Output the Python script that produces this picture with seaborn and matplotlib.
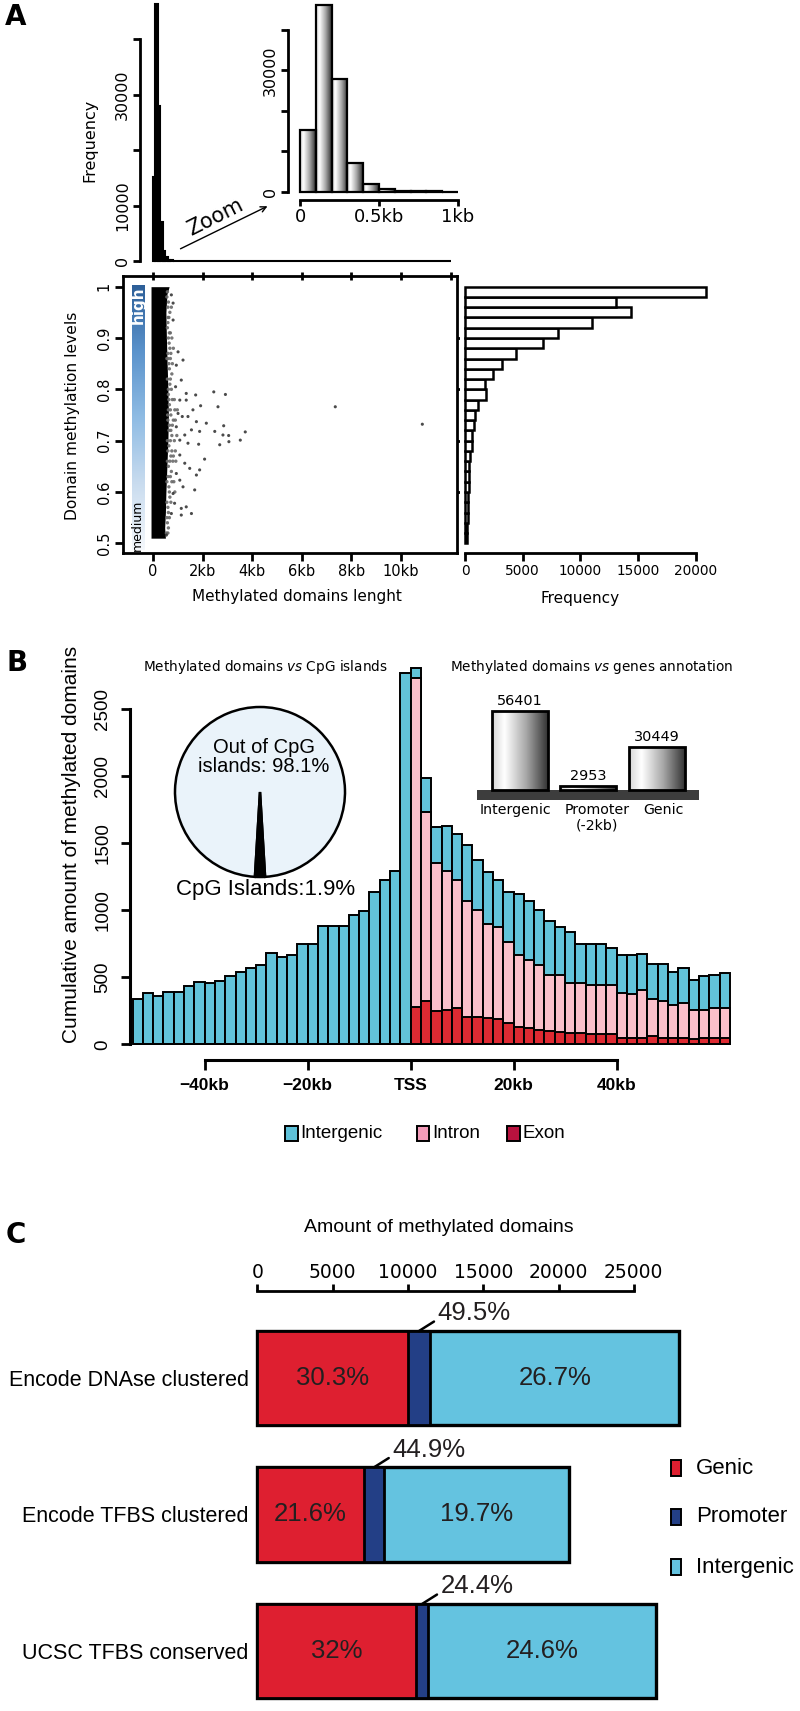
import numpy as np
import pandas as pd
import matplotlib
matplotlib.use("Agg")
import matplotlib.pyplot as plt
from matplotlib.patches import Rectangle, FancyArrowPatch
from matplotlib.colors import LinearSegmentedColormap
import seaborn as sns

# ---------------- data ----------------
# A: domain length histogram, 100 bp bins (bin start in bp)
len_bin_start = [0, 100, 200, 300, 400, 500, 600, 700, 800, 900]
len_counts = [15200, 46250, 27900, 7080, 1830, 670, 250, 100, 60, 40]

# A: methylation level histogram, 0.02 bins (bin start)
lvl_bin_start = [0.98, 0.96, 0.94, 0.92, 0.90, 0.88, 0.86, 0.84, 0.82, 0.80,
                 0.78, 0.76, 0.74, 0.72, 0.70, 0.68, 0.66, 0.64, 0.62, 0.60,
                 0.58, 0.56, 0.54, 0.52, 0.50]
lvl_counts = [20840, 13040, 14370, 10970, 8020, 6780, 4420, 3230, 2450, 1730,
              1820, 1150, 870, 780, 580, 580, 430, 375, 320, 320,
              260, 260, 260, 200, 200]

# A: scatter - saturated core (right edge in bp at each level) and sparse points
core_level = [0.51, 0.53, 0.56, 0.60, 0.65, 0.70, 0.75, 0.80, 0.85, 0.90, 0.95, 0.985, 1.0]
core_right = [500, 470, 500, 520, 560, 600, 620, 600, 570, 540, 520, 560, 650]
sparse_len = [7350, 10860, 2450, 2920, 2620, 1920, 1720, 1340, 2150, 2490, 2850, 3050,
              3060, 3720, 3520, 2820, 2690, 2080, 1880, 1750, 1550, 1410, 1840, 1680,
              1550, 1140, 1140, 1340, 1210, 1080, 1880, 1750, 1480, 1210, 1010, 940,
              1140, 1340, 1180, 1010, 1080, 910, 810, 740, 810, 940, 1080, 1280,
              940, 810, 870, 740, 540, 1080, 1280, 1410, 1610]
sparse_lvl = [0.766, 0.732, 0.795, 0.790, 0.766, 0.768, 0.789, 0.792, 0.734, 0.718, 0.729, 0.710,
              0.698, 0.717, 0.701, 0.711, 0.692, 0.664, 0.718, 0.737, 0.721, 0.695, 0.693, 0.604,
              0.558, 0.568, 0.555, 0.571, 0.610, 0.623, 0.643, 0.633, 0.646, 0.857, 0.873, 0.847,
              0.818, 0.779, 0.747, 0.753, 0.779, 0.805, 0.935, 0.984, 0.968, 0.727, 0.672, 0.656,
              0.636, 0.597, 0.578, 0.558, 0.516, 0.701, 0.711, 0.747, 0.760]
# grey fringe just right of the core
fringe_len = [620, 680, 600, 700, 650, 720, 640, 760, 680, 620, 780, 700, 820, 660,
              760, 860, 640, 720, 800, 620, 700, 760, 640, 680, 600, 660, 580, 620,
              720, 880, 900, 580, 560, 590, 600,
              560, 600, 640, 580, 620, 680, 600, 660, 700, 620, 740, 660, 720, 780,
              640, 700, 760, 820, 680, 740, 600, 660, 720, 620, 560, 600, 540, 900,
              960, 860, 920, 980, 840, 880, 600, 640, 580, 600, 580, 560, 580, 620,
              560, 600, 660, 700, 760, 740, 820, 780]
fringe_lvl = [0.97, 0.95, 0.93, 0.91, 0.89, 0.87, 0.85, 0.83, 0.81, 0.79, 0.78, 0.76, 0.74, 0.73,
              0.71, 0.70, 0.69, 0.67, 0.66, 0.65, 0.63, 0.62, 0.61, 0.59, 0.57, 0.55, 0.54, 0.53,
              0.72, 0.76, 0.68, 0.99, 0.62, 0.75, 0.86,
              0.98, 0.96, 0.94, 0.92, 0.90, 0.88, 0.87, 0.84, 0.82, 0.80, 0.80, 0.77, 0.75, 0.73,
              0.72, 0.70, 0.68, 0.67, 0.66, 0.64, 0.63, 0.60, 0.58, 0.56, 0.55, 0.52, 0.52, 0.74,
              0.71, 0.78, 0.66, 0.76, 0.62, 0.60, 0.74, 0.78, 0.82, 0.68, 0.66, 0.58, 0.70, 0.76,
              0.86, 0.94, 0.91, 0.86, 0.90, 0.96, 0.88, 0.85]

# B: distance to TSS, 2 kb bins (bin start, kb)
tss_bin_start = [-54, -52, -50, -48, -46, -44, -42, -40, -38, -36, -34, -32, -30, -28,
                 -26, -24, -22, -20, -18, -16, -14, -12, -10, -8, -6, -4, -2,
                 0, 2, 4, 6, 8, 10, 12, 14, 16, 18, 20, 22, 24, 26, 28, 30, 32, 34,
                 36, 38, 40, 42, 44, 46, 48, 50, 52, 54, 56, 58, 60]
tss_intergenic = [338, 380, 360, 393, 393, 435, 468, 460, 475, 510, 542, 567, 592, 679,
                  649, 664, 749, 749, 883, 883, 883, 965, 998, 1139, 1226, 1296, 2774,
                  70, 253, 269, 335, 343, 417, 377, 384, 352, 373, 454, 439, 410, 402,
                  360, 385, 298, 310, 310, 273, 290, 290, 273, 263, 273, 243, 268, 224,
                  254, 248, 265]
tss_intron = [0] * 27 + [2457, 1407, 1104, 1038, 960, 866, 799, 708, 690, 608, 539, 509,
                         484, 415, 422, 372, 372, 365, 365, 365, 336, 326, 360, 273, 281,
                         249, 261, 218, 211, 224, 224]
tss_exon = [0] * 27 + [280, 325, 248, 255, 268, 201, 201, 193, 186, 156, 131, 119, 106,
                       101, 94, 82, 82, 77, 77, 77, 44, 49, 44, 62, 44, 44, 44, 37, 44,
                       44, 44]

# B: CpG pie and gene annotation
cpg_labels = ["Out of CpG\nislands: 98.1%", "CpG Islands:1.9%"]
cpg_share = [98.1, 1.9]
ann_labels = ["Intergenic", "Promoter\n(-2kb)", "Genic"]
ann_counts = [56401, 2953, 30449]

# C: overlap with regulatory sets
c_sets = ["Encode DNAse clustered", "Encode TFBS clustered", "UCSC TFBS conserved"]
c_genic = [10000, 7080, 10550]
c_promoter = [1500, 1330, 800]
c_intergenic = [16500, 12290, 15120]
c_pct_genic = ["30.3%", "21.6%", "32%"]
c_pct_promoter = ["49.5%", "44.9%", "24.4%"]
c_pct_intergenic = ["26.7%", "19.7%", "24.6%"]

# ---------------- style ----------------
W, H = 800, 1711
sns.set_theme(style="ticks")
plt.rcParams["font.family"] = ["DejaVu Sans"]
plt.rcParams.update({"axes.edgecolor": "black", "xtick.color": "black",
                     "ytick.color": "black", "text.color": "black",
                     "axes.labelcolor": "black"})
LIB = ["Liberation Sans", "DejaVu Sans"]

TEAL, PINK, RED = "#62c3d9", "#fbbfca", "#dd2a32"
C_RED, C_BLUE, C_CYAN = "#de1f30", "#233f86", "#64c3e0"
bar_grad = LinearSegmentedColormap.from_list(
    "bargrad", [(0, "#d6d6d6"), (0.22, "#ffffff"), (0.6, "#a8a8a8"), (1, "#2e2e2e")])
blue_grad = LinearSegmentedColormap.from_list(
    "bluegrad", ["#f5f8fc", "#c9dcef", "#8fbce4", "#5b93cc", "#2d5f98"])

fig = plt.figure(figsize=(W / 100, H / 100), dpi=100)


def add_ax(x0, y0, x1, y1):
    return fig.add_axes([x0 / W, 1 - y1 / H, (x1 - x0) / W, (y1 - y0) / H])


def ftext(x, y, s, **kw):
    kw.setdefault("ha", "center")
    kw.setdefault("va", "center")
    return fig.text(x / W, 1 - y / H, s, **kw)


def frect(x0, y0, x1, y1, color):
    fig.add_artist(Rectangle((x0 / W, 1 - y1 / H), (x1 - x0) / W, (y1 - y0) / H,
                             transform=fig.transFigure, facecolor=color,
                             edgecolor="black", linewidth=1.4))


def gradient_bars(ax, cmap):
    grad = np.linspace(0, 1, 256).reshape(1, -1)
    for p in list(ax.patches):
        h = p.get_height()
        if h <= 0:
            continue
        x0, y0, w = p.get_x(), p.get_y(), p.get_width()
        im = ax.imshow(grad, extent=[x0, x0 + w, y0, y0 + h], aspect="auto",
                       cmap=cmap, zorder=2, interpolation="bilinear")
        im.set_clip_path(p)
        p.set_facecolor("none")
        p.set_zorder(3)


def rot_ylabels(ax):
    for t in ax.get_yticklabels():
        t.set_rotation(90)
        t.set_va("center")


# ---------------- panel A ----------------
ftext(16, 17, "A", fontsize=20, fontweight="bold")

# top histogram (full range)
ax_h = add_ax(140, 3, 457, 261)
sns.histplot(x=[b + 50 for b in len_bin_start], weights=len_counts, bins=120,
             binrange=(0, 12000), color="black", edgecolor="black", linewidth=1.5,
             alpha=1, ax=ax_h)
for p in ax_h.patches:
    p.set_clip_on(False)
ax_h.set_xlim(-524, 12258)
ax_h.set_ylim(0, 46500)
sns.despine(ax=ax_h, bottom=True)
ax_h.spines["left"].set_bounds(0, 40000)
ax_h.spines["left"].set_linewidth(2)
ax_h.set_xticks([])
ax_h.set_yticks([0, 10000, 20000, 30000, 40000], ["0", "10000", "", "30000", ""])
ax_h.tick_params(axis="y", length=5, width=2, labelsize=11.5, pad=2)
rot_ylabels(ax_h)
ax_h.set_xlabel("")
ax_h.set_ylabel("")
ftext(90, 140, "Frequency", rotation=90, fontsize=11.5)

# zoomed inset histogram
ax_i = add_ax(288, 3, 462, 191.7)
sns.histplot(x=[b + 50 for b in len_bin_start], weights=len_counts, bins=10,
             binrange=(0, 1000), color="white", edgecolor="black", linewidth=1.6,
             alpha=1, ax=ax_i)
gradient_bars(ax_i, bar_grad)
for p in ax_i.patches:
    p.set_clip_on(False)
ax_i.set_xlim(-76, 1025)
ax_i.set_ylim(0, 46700)
sns.despine(ax=ax_i)
ax_i.spines["left"].set_bounds(0, 40000)
ax_i.spines["bottom"].set_bounds(0, 1000)
ax_i.spines["bottom"].set_position(("outward", 6))
for s in ("left", "bottom"):
    ax_i.spines[s].set_linewidth(2)
ax_i.set_yticks([0, 10000, 20000, 30000, 40000], ["0", "", "", "30000", ""])
ax_i.set_xticks([0, 500, 1000], ["0", "0.5kb", "1kb"])
ax_i.tick_params(axis="y", length=5, width=2, labelsize=11.5, pad=2)
ax_i.tick_params(axis="x", length=4, width=2, labelsize=13, pad=2)
rot_ylabels(ax_i)
ax_i.set_xlabel("")
ax_i.set_ylabel("")

ftext(215, 217, "Zoom", rotation=26.6, fontsize=15)
fig.add_artist(FancyArrowPatch((178 / W, 1 - 250 / H), (270 / W, 1 - 205 / H),
                               transform=fig.transFigure, arrowstyle="->",
                               mutation_scale=10, linewidth=1, color="black"))

# scatter
ax_s = add_ax(123, 276, 457, 553)
ax_s.imshow(np.linspace(0, 1, 256).reshape(-1, 1), extent=[-859, -363, 0.487, 1.003],
            aspect="auto", origin="lower", cmap=blue_grad, zorder=1)
ax_s.fill_betweenx(core_level, -80, core_right, color="black", linewidth=0, zorder=2)
sns.scatterplot(x=fringe_len, y=fringe_lvl, s=6, color="#6a6a6a", edgecolor="none",
                alpha=0.9, legend=False, ax=ax_s, zorder=3)
sns.scatterplot(x=sparse_len, y=sparse_lvl, s=5, color="#2b2b2b", edgecolor="none",
                alpha=0.85, legend=False, ax=ax_s, zorder=3)
ax_s.set_xlim(-1210, 12258)
ax_s.set_ylim(0.4811, 1.0208)
for s in ax_s.spines.values():
    s.set_linewidth(2)
ax_s.set_yticks([0.5, 0.6, 0.7, 0.8, 0.9, 1.0], ["0.5", "0.6", "0.7", "0.8", "0.9", "1"])
ax_s.set_xticks([0, 2000, 4000, 6000, 8000, 10000], ["0", "2kb", "4kb", "6kb", "8kb", "10kb"])
ax_s.tick_params(axis="both", length=6, width=2, labelsize=10.5, pad=2)
rot_ylabels(ax_s)
ax_top = ax_s.secondary_xaxis("top")
ax_top.set_xticks([0, 2000, 4000, 6000, 8000, 10000, 12000], [""] * 7)
ax_top.tick_params(length=6, width=2, direction="inout")
ax_top.spines["top"].set_visible(False)
ax_rt = ax_s.secondary_yaxis("right")
ax_rt.set_yticks([0.6, 0.7, 0.8, 0.9], [""] * 4)
ax_rt.tick_params(length=6, width=2)
ax_rt.spines["right"].set_visible(False)
ax_s.text(-611, 0.963, "high", rotation=90, ha="center", va="center", color="white",
          fontsize=11, fontweight="bold")
ax_s.text(-611, 0.535, "medium", rotation=90, ha="center", va="center", color="black",
          fontsize=9)
ftext(72, 416, "Domain methylation levels", rotation=90, fontsize=11.2)
ftext(297, 597, "Methylated domains lenght", fontsize=11)

# right histogram of methylation levels
ax_r = add_ax(460, 276, 790, 553)
sns.barplot(x=lvl_counts, y=[b + 0.01 for b in lvl_bin_start], orient="y",
            native_scale=True, width=1, color="white", edgecolor="black",
            linewidth=1.8, saturation=1, errorbar=None, ax=ax_r)
ax_r.set_xlim(-433, 28139)
ax_r.set_ylim(0.4811, 1.0208)
sns.despine(ax=ax_r, left=True)
ax_r.spines["bottom"].set_bounds(0, 20000)
ax_r.spines["bottom"].set_linewidth(2)
ax_r.set_yticks([])
ax_r.set_xticks([0, 5000, 10000, 15000, 20000], ["0", "5000", "10000", "15000", "20000"])
ax_r.tick_params(axis="x", length=6, width=2, labelsize=9.8, pad=2)
ax_r.set_xlabel("")
ax_r.set_ylabel("")
ftext(580, 598, "Frequency", fontsize=11)

# ---------------- panel B ----------------
ftext(17, 663, "B", fontsize=20, fontweight="bold")

df_tss = pd.DataFrame({"kb": [b + 1 for b in tss_bin_start],
                       "intergenic": tss_intergenic, "intron": tss_intron, "exon": tss_exon})
df_tss["total"] = df_tss["intergenic"] + df_tss["intron"] + df_tss["exon"]
df_tss["genic"] = df_tss["intron"] + df_tss["exon"]

ax_b = add_ax(130, 660, 735, 1044.3)
for col, colr in [("total", TEAL), ("genic", PINK), ("exon", RED)]:
    sns.barplot(data=df_tss, x="kb", y=col, native_scale=True, width=1, color=colr,
                edgecolor="black", linewidth=1.4, saturation=1, errorbar=None, ax=ax_b)
for p in ax_b.patches:
    p.set_clip_on(False)
ax_b.set_xlim(-54.5, 63.0)
ax_b.set_ylim(0, 2868)
sns.despine(ax=ax_b)
ax_b.spines["left"].set_bounds(0, 2500)
ax_b.spines["bottom"].set_bounds(-40, 40)
ax_b.spines["bottom"].set_position(("outward", 11.5))
for s in ("left", "bottom"):
    ax_b.spines[s].set_linewidth(2.2)
ax_b.set_yticks([0, 500, 1000, 1500, 2000, 2500])
ax_b.set_xticks([-40, -20, 0, 20, 40], ["\u221240kb", "\u221220kb", "TSS", "20kb", "40kb"])
ax_b.tick_params(axis="y", length=6.5, width=2, labelsize=13.5, pad=7, labelfontfamily=LIB)
ax_b.tick_params(axis="x", length=7, width=2, labelsize=12.5, pad=6, labelfontfamily=LIB)
for t in ax_b.get_xticklabels():
    t.set_fontweight("bold")
rot_ylabels(ax_b)
ax_b.set_xlabel("")
ax_b.set_ylabel("")
ftext(72, 844, "Cumulative amount of methylated domains", rotation=90, fontsize=15,
      family=LIB)

ftext(265, 667, "Methylated domains $\\it{vs}$ CpG islands", fontsize=9.8)
ftext(592, 667, "Methylated domains $\\it{vs}$ genes annotation", fontsize=9.8)

# pie inset
ax_p = add_ax(170, 702, 350, 882)
ax_p.pie(cpg_share, colors=["#eaf3fa", "black"],
         startangle=270 - 360 * (cpg_share[0] + cpg_share[1] / 2) / 100,
         wedgeprops=dict(edgecolor="black", linewidth=1.8))
ax_p.set_xlim(-1.0588, 1.0588)
ax_p.set_ylim(-1.0588, 1.0588)
ftext(264, 757, cpg_labels[0], fontsize=14.5, family=LIB, linespacing=1.05)
ftext(266, 889, cpg_labels[1], fontsize=16, family=LIB)

# gene annotation inset
ax_g = add_ax(477, 690, 699, 800)
sns.barplot(x=ann_labels, y=ann_counts, color="white", edgecolor="black", linewidth=2,
            width=0.815, saturation=1, errorbar=None, ax=ax_g)
ax_g.bar_label(ax_g.containers[0], labels=[str(v) for v in ann_counts], padding=2,
               fontsize=10.4)
gradient_bars(ax_g, bar_grad)
ax_g.axhspan(-7112, 0, color="#3d3d3d", zorder=1, linewidth=0)
ax_g.set_xlim(-0.62, 2.61)
ax_g.set_ylim(-7112, 71130)
sns.despine(ax=ax_g, left=True, bottom=True)
ax_g.set_yticks([])
# labels under the plate sit slightly off the bar centres, as in the original
ax_g.set_xticks([-0.06, 1.13, 2.09], ann_labels)
ax_g.tick_params(axis="x", length=0, pad=2, labelsize=10.2)
ax_g.set_xlabel("")
ax_g.set_ylabel("")

# legend B
for (x0, x1, tx, lab, colr) in [(285, 298, 300, "Intergenic", "#5ec1d9"),
                                (416.5, 428.5, 432.5, "Intron", "#f39bb9"),
                                (507, 520, 523, "Exon", "#b8123e")]:
    frect(x0, 1126, x1, 1141, colr)
    ftext(tx, 1134, lab, ha="left", fontsize=13.5, family=LIB)

# ---------------- panel C ----------------
ftext(16, 1235, "C", fontsize=20, fontweight="bold")
ftext(439, 1228, "Amount of methylated domains", fontsize=14, family=LIB)

c_tot = [g + p + i for g, p, i in zip(c_genic, c_promoter, c_intergenic)]
c_gp = [g + p for g, p in zip(c_genic, c_promoter)]
ax_c = add_ax(250, 1291, 700, 1705)
for vals, colr, lw in [(c_tot, C_CYAN, 2.4), (c_gp, C_BLUE, 2.0), (c_genic, C_RED, 2.0)]:
    sns.barplot(x=vals, y=c_sets, orient="y", width=0.69, color=colr, edgecolor="black",
                linewidth=lw, saturation=1, errorbar=None, ax=ax_c)
ax_c.set_xlim(-485, 29395)
ax_c.set_ylim(2.396, -0.637)
for s in ("left", "right", "bottom"):
    ax_c.spines[s].set_visible(False)
ax_c.spines["top"].set_visible(True)
ax_c.spines["top"].set_bounds(0, 25000)
ax_c.spines["top"].set_linewidth(2)
ax_c.xaxis.tick_top()
ax_c.set_xticks([0, 5000, 10000, 15000, 20000, 25000])
ax_c.tick_params(axis="x", top=True, bottom=False, labeltop=True, labelbottom=False,
                 length=5, width=2, pad=1.5, labelsize=13.5)
ax_c.tick_params(axis="y", left=False, length=0, pad=1, labelsize=15.5,
                 labelfontfamily=LIB)
ax_c.set_xlabel("")
ax_c.set_ylabel("")
for i in range(len(c_sets)):
    ax_c.text(c_genic[i] / 2, i, c_pct_genic[i], ha="center", va="center",
              fontsize=18.5, family=LIB, color="#231f20")
    ax_c.text(c_gp[i] + c_intergenic[i] / 2, i, c_pct_intergenic[i], ha="center",
              va="center", fontsize=18.5, family=LIB, color="#231f20")
    ax_c.annotate(c_pct_promoter[i], xy=(c_genic[i] + c_promoter[i] / 2, i - 0.345),
                  xytext=(13, 12.5), textcoords="offset points", ha="left", va="center",
                  fontsize=18.5, family=LIB, color="#231f20",
                  arrowprops=dict(arrowstyle="-", lw=1.8, color="black", shrinkA=0,
                                  shrinkB=0, relpos=(0.0, 0.25)))

# legend C
for (y0, lab, colr) in [(1460, "Genic", C_RED), (1509, "Promoter", C_BLUE),
                        (1559, "Intergenic", C_CYAN)]:
    frect(671, y0, 681, y0 + 16, colr)
    ftext(696, y0 + 8, lab, ha="left", fontsize=16, family=LIB)

fig.savefig("out.png", dpi=100)
